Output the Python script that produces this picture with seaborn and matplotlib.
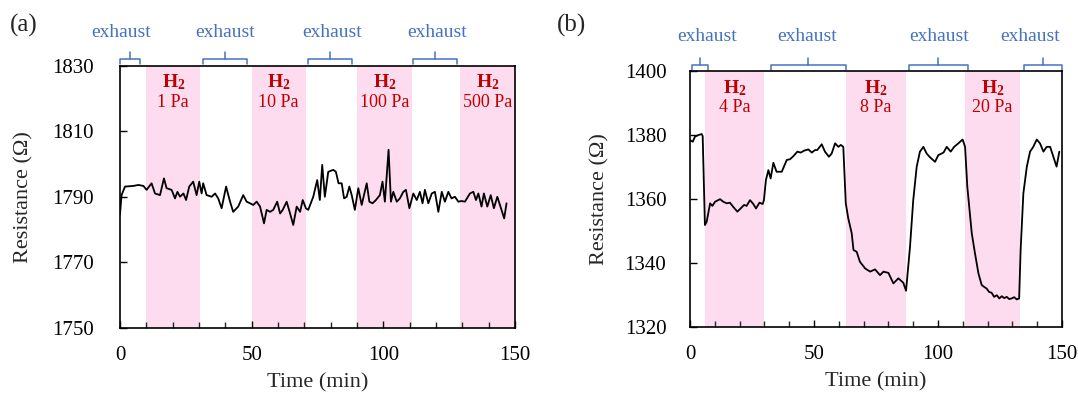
import numpy as np
import pandas as pd
import matplotlib
matplotlib.use("Agg")
import matplotlib.pyplot as plt
import seaborn as sns

# ---- panel (a): H2 1-500 Pa ----
time_a = [0.0, 0.6, 1.9, 5.1, 7.0, 8.9, 10.1, 12.0, 13.3, 15.2, 16.7, 17.7, 19.6, 20.9,
          21.8, 22.8, 24.1, 25.1, 26.3, 27.8, 29.1, 30.1, 31.0, 31.6, 32.9, 34.8, 36.1,
          37.3, 38.6, 40.3, 41.8, 43.0, 44.9, 46.8, 48.1, 49.4, 50.6, 51.9, 53.2, 54.7,
          55.7, 57.0, 58.2, 59.7, 60.8, 61.8, 63.3, 64.6, 65.8, 67.1, 68.4, 69.4, 70.6,
          71.5, 73.4, 74.9, 75.9, 76.8, 77.8, 79.1, 81.0, 82.0, 83.0, 84.2, 85.1, 86.1,
          87.1, 88.0, 89.2, 90.5, 91.8, 93.7, 94.7, 95.9, 97.2, 98.7, 99.7, 100.6, 102.0,
          102.9, 103.8, 105.1, 106.3, 107.6, 108.6, 109.9, 111.4, 112.7, 113.9, 114.9,
          115.8, 117.1, 118.4, 119.6, 120.9, 122.2, 123.4, 124.7, 125.9, 127.2, 128.5,
          129.7, 131.0, 132.9, 134.2, 135.2, 136.1, 137.3, 138.2, 139.5, 140.8, 142.0,
          143.3, 144.3, 145.9, 146.8]
res_a = [1784.6, 1790.5, 1793.1, 1793.3, 1793.6, 1793.3, 1792.1, 1794.1, 1791.0, 1790.5,
         1795.6, 1792.6, 1792.1, 1789.5, 1791.5, 1790.0, 1791.0, 1789.0, 1793.1, 1794.6,
         1790.5, 1794.6, 1791.0, 1794.1, 1790.5, 1790.0, 1791.0, 1789.5, 1786.5, 1793.1,
         1788.5, 1785.4, 1787.0, 1790.5, 1788.5, 1788.0, 1787.5, 1788.5, 1787.0, 1781.9,
         1786.0, 1785.4, 1786.0, 1788.5, 1784.9, 1786.0, 1788.5, 1784.9, 1781.4, 1787.0,
         1785.4, 1789.0, 1786.5, 1786.0, 1790.0, 1795.1, 1789.0, 1799.7, 1790.0, 1797.6,
         1798.2, 1797.6, 1794.1, 1794.1, 1789.5, 1790.0, 1793.1, 1790.5, 1786.0, 1792.6,
         1787.5, 1794.1, 1788.5, 1788.0, 1789.0, 1790.5, 1794.6, 1788.5, 1804.3, 1788.5,
         1791.5, 1788.5, 1789.5, 1791.5, 1792.1, 1786.5, 1791.0, 1789.0, 1791.5, 1788.0,
         1792.1, 1788.0, 1791.0, 1791.5, 1785.4, 1791.5, 1788.5, 1791.5, 1789.5, 1790.0,
         1788.5, 1788.7, 1788.5, 1791.0, 1791.5, 1789.0, 1791.0, 1787.0, 1791.0, 1787.0,
         1790.5, 1786.5, 1790.0, 1787.5, 1783.4, 1788.0]
h2_a_start = [10, 50, 90, 129]
h2_a_end = [30.5, 70.5, 111, 150]
h2_a_labels = ["1 Pa", "10 Pa", "100 Pa", "500 Pa"]
exh_a_start = [0, 31.6, 71.4, 111.3]
exh_a_end = [7.5, 48.2, 88.1, 128]
exh_a_text_x = [0.5, 40, 80.5, 120.5]

# ---- panel (b): H2 4-20 Pa ----
time_b = [0.0, 1.1, 2.0, 3.4, 4.7, 5.1, 6.0, 6.7, 8.1, 9.0, 10.1, 12.1, 13.4, 14.8, 16.1,
          17.5, 19.1, 20.4, 21.8, 22.8, 24.2, 25.5, 26.6, 28.0, 29.3, 29.8, 30.6, 31.6,
          32.5, 33.6, 34.9, 37.0, 39.0, 40.3, 41.7, 43.3, 44.6, 46.0, 47.7, 49.1, 50.4,
          51.3, 53.1, 54.4, 56.0, 57.1, 58.5, 59.8, 60.8, 61.8, 62.8, 63.8, 65.2, 65.9,
          67.2, 68.5, 70.6, 72.6, 74.6, 76.6, 78.0, 80.0, 82.0, 84.0, 86.0, 87.1, 88.7,
          90.0, 91.4, 92.7, 94.1, 95.4, 96.8, 98.8, 100.1, 102.2, 103.5, 105.1, 106.5,
          108.2, 109.9, 110.9, 111.8, 113.6, 114.9, 116.3, 117.6, 118.6, 119.6, 120.6,
          121.6, 122.6, 123.7, 124.7, 125.7, 126.7, 127.7, 128.7, 129.7, 130.7, 131.7,
          132.7, 133.3, 134.4, 135.8, 137.1, 138.4, 139.8, 141.1, 142.5, 143.8, 145.2,
          146.5, 147.8, 148.9]
res_b = [1378.4, 1377.9, 1379.5, 1380.0, 1380.3, 1379.7, 1351.8, 1352.8, 1358.6, 1357.8,
         1359.1, 1359.9, 1359.1, 1358.6, 1358.8, 1357.4, 1356.0, 1357.0, 1358.1, 1357.8,
         1359.6, 1358.4, 1357.0, 1358.8, 1358.4, 1359.6, 1365.9, 1369.0, 1366.4, 1371.3,
         1368.5, 1368.5, 1372.2, 1372.4, 1373.4, 1374.8, 1374.5, 1375.1, 1375.5, 1374.5,
         1375.3, 1375.3, 1377.1, 1374.8, 1373.2, 1374.2, 1377.4, 1376.3, 1376.9, 1376.3,
         1358.6, 1353.9, 1349.2, 1344.0, 1343.4, 1340.3, 1338.2, 1337.2, 1337.9, 1336.1,
         1337.2, 1336.8, 1333.5, 1335.1, 1333.7, 1331.2, 1345.0, 1359.6, 1370.1, 1374.8,
         1376.3, 1374.2, 1373.0, 1371.6, 1373.7, 1374.5, 1376.3, 1374.8, 1376.3, 1377.4,
         1378.6, 1376.3, 1363.8, 1349.2, 1342.9, 1336.6, 1333.0, 1332.4, 1331.9, 1330.8,
         1330.6, 1329.3, 1329.8, 1328.8, 1329.5, 1328.9, 1329.3, 1328.6, 1328.8, 1329.2,
         1328.5, 1328.8, 1344.0, 1361.7, 1370.1, 1374.8, 1376.3, 1378.6, 1377.4, 1374.8,
         1376.3, 1376.3, 1373.2, 1370.1, 1374.8]
h2_b_start = [6, 63, 111]
h2_b_end = [30, 87, 133]
h2_b_labels = ["4 Pa", "8 Pa", "20 Pa"]
exh_b_start = [0.7, 32.5, 88.1, 134.5]
exh_b_end = [7.4, 62.8, 112.1, 150]
exh_b_text_x = [7, 47.3, 100.6, 137]

PINK = "#fcdcee"
RED = "#c00000"
BLUE = "#4472c4"

sns.set_theme(style="ticks")
plt.rcParams["font.family"] = ["Liberation Serif", "DejaVu Serif"]
plt.rcParams["mathtext.fontset"] = "custom"
plt.rcParams["mathtext.rm"] = "Liberation Serif"
plt.rcParams["mathtext.bf"] = "Liberation Serif:bold"

fig = plt.figure(figsize=(10.78, 3.98), dpi=100)
ax_a = fig.add_axes([0.1113, 0.1759, 0.3664, 0.6595])
ax_b = fig.add_axes([0.6401, 0.1796, 0.3451, 0.6415])


def draw_panel(ax, t, r, ylim, h2_start, h2_end, h2_labels,
               ex_start, ex_end, ex_text_x, ex_text_y, ytick_pad, ylabel_pad):
    for s, e, lab in zip(h2_start, h2_end, h2_labels):
        ax.axvspan(s, e, color=PINK, lw=0, zorder=0)
        mid = (s + e) / 2
        ax.text(mid, 0.935, r"$\mathbf{H_2}$", transform=ax.get_xaxis_transform(),
                ha="center", va="center", color=RED, fontsize=14)
        ax.text(mid, 0.858, lab, transform=ax.get_xaxis_transform(),
                ha="center", va="center", color=RED, fontsize=13)
    df = pd.DataFrame({"Time": t, "Resistance": r})
    sns.lineplot(data=df, x="Time", y="Resistance", ax=ax, color="black",
                 lw=1.3, zorder=3)
    # exhaust brackets above the frame
    tr = ax.get_xaxis_transform()
    for s, e, tx in zip(ex_start, ex_end, ex_text_x):
        m = (s + e) / 2
        ax.plot([s, s, e, e], [1.004, 1.026, 1.026, 1.004], color=BLUE, lw=1.1,
                transform=tr, clip_on=False)
        ax.plot([m, m], [1.026, 1.05], color=BLUE, lw=1.1, transform=tr, clip_on=False)
        ax.text(tx, ex_text_y, "exhaust", transform=tr, ha="center", va="center",
                color=BLUE, fontsize=14)
    ax.set_xlim(0, 150)
    ax.set_ylim(*ylim)
    ax.set_xticks([0, 50, 100, 150])
    ax.set_xticks(np.arange(0, 151, 10), minor=True)
    ax.set_yticks(np.arange(ylim[0], ylim[1] + 1, 20))
    ax.tick_params(axis="both", direction="in", labelsize=15, color="black",
                   labelcolor="black", length=5, width=1)
    ax.tick_params(axis="x", which="minor", direction="in", length=4, width=1,
                   bottom=True)
    ax.tick_params(axis="x", pad=13)
    ax.tick_params(axis="y", pad=ytick_pad)
    ax.set_xlabel("Time (min)", fontsize=16, labelpad=6)
    ax.set_ylabel("Resistance (Ω)", fontsize=16, labelpad=ylabel_pad)
    for sp in ax.spines.values():
        sp.set_visible(True)
        sp.set_color("black")
        sp.set_linewidth(1.2)
    ax.set_facecolor("white")


draw_panel(ax_a, time_a, res_a, (1750, 1830), h2_a_start, h2_a_end, h2_a_labels,
           exh_a_start, exh_a_end, exh_a_text_x, 1.125, 19, 13)
draw_panel(ax_b, time_b, res_b, (1320, 1400), h2_b_start, h2_b_end, h2_b_labels,
           exh_b_start, exh_b_end, exh_b_text_x, 1.135, 17, 11)

fig.text(0.009, 0.935, "(a)", fontsize=18, ha="left", va="center")
fig.text(0.517, 0.935, "(b)", fontsize=18, ha="left", va="center")

fig.savefig("out.png", dpi=100, facecolor="white")
